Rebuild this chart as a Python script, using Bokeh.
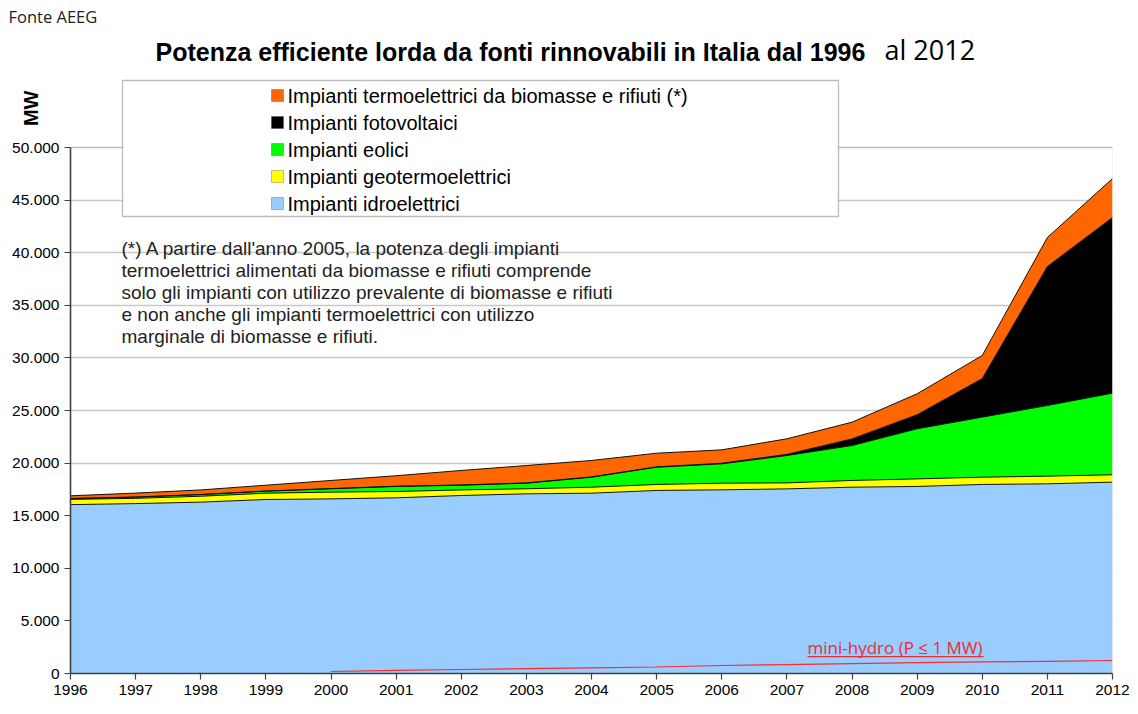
from bokeh.plotting import figure
from bokeh.models import (ColumnDataSource, Range1d, FixedTicker, Label,
                          BoxAnnotation, Title)
from bokeh.embed import file_html
from bokeh.resources import INLINE

# ---------------- data (MW) ----------------
years = [1996, 1997, 1998, 1999, 2000, 2001, 2002, 2003, 2004, 2005, 2006,
         2007, 2008, 2009, 2010, 2011, 2012]
hydro = [16050, 16150, 16290, 16540, 16600, 16700, 16920, 17080, 17140, 17400,
         17460, 17550, 17710, 17780, 17970, 18030, 18190]
geo = [500, 500, 560, 600, 640, 600, 530, 480, 570, 570, 630, 570, 640, 720,
       690, 730, 700]
wind = [70, 110, 150, 190, 320, 480, 450, 530, 950, 1640, 1840, 2600, 3320,
        4760, 5710, 6715, 7760]
pv = [20, 20, 20, 20, 20, 20, 20, 30, 30, 30, 60, 110, 630, 1340, 3670,
      13215, 16696]
bio = [250, 370, 430, 550, 770, 1000, 1380, 1650, 1560, 1300, 1270, 1480,
       1590, 1990, 2190, 2755, 3704]

mini_years = [2000, 2001, 2002, 2003, 2004, 2005, 2006, 2007, 2008, 2009,
              2010, 2011, 2012]
mini_hydro = [190, 300, 380, 460, 540, 620, 760, 850, 940, 1040, 1110, 1160,
              1235]

series_keys = ["hydro", "geo", "wind", "pv", "bio"]
series_names = ["Impianti idroelettrici", "Impianti geotermoelettrici",
                "Impianti eolici", "Impianti fotovoltaici",
                "Impianti termoelettrici da biomasse e rifiuti (*)"]
series_colors = ["#99ccff", "#ffff00", "#00ff00", "#000000", "#ff6600"]

y_tick_values = [0, 5000, 10000, 15000, 20000, 25000, 30000, 35000, 40000,
                 45000, 50000]
y_tick_labels = ["0", "5.000", "10.000", "15.000", "20.000", "25.000",
                 "30.000", "35.000", "40.000", "45.000", "50.000"]

note_lines = [
    "(*) A partire dall'anno 2005, la potenza degli impianti",
    "termoelettrici alimentati da biomasse e rifiuti comprende",
    "solo gli impianti con utilizzo prevalente di biomasse e rifiuti",
    "e non anche gli impianti termoelettrici con utilizzo",
    "marginale di biomasse e rifiuti.",
]

# ---------------- layout helpers (pixel -> data) ----------------
W, H = 1138, 714
FL, FR, FB, FT = 70, 1112, 673, 27   # frame left / right / bottom / top (px)
PX50K = 147                          # pixel row of 50.000
YMAX = 50000 * (FB - FT) / (FB - PX50K)


def dx(px):
    return years[0] + (px - FL) * (years[-1] - years[0]) / (FR - FL)


def dy(py):
    return (FB - py) * 50000 / (FB - PX50K)


src = ColumnDataSource(dict(year=years, hydro=hydro, geo=geo, wind=wind,
                            pv=pv, bio=bio))

p = figure(width=W, height=H, output_backend="svg", toolbar_location=None,
           tools="", x_range=Range1d(years[0], years[-1]),
           y_range=Range1d(0, YMAX),
           min_border_left=FL, min_border_right=W - FR,
           min_border_top=FT, min_border_bottom=H - FB)
p.outline_line_color = None
p.background_fill_color = "white"
p.border_fill_color = "white"

# source note as the plot title (top-left, outside the frame)
p.title.text = "Fonte AEEG"
p.title.align = "left"
p.title.offset = 8 - FL
p.title.standoff = 0
p.title.vertical_align = "bottom"
p.title.text_font = "Open Sans"
p.title.text_font_size = "16.5px"
p.title.text_font_style = "normal"
p.title.text_color = "#222222"

# axes
yt = FixedTicker(ticks=y_tick_values)
p.yaxis.ticker = yt
p.ygrid.ticker = yt
p.yaxis.major_label_overrides = {v: l for v, l in zip(y_tick_values, y_tick_labels)}
p.xaxis.ticker = FixedTicker(ticks=years)
for ax in (p.xaxis[0], p.yaxis[0]):
    ax.axis_line_color = "#404040"
    ax.axis_line_width = 1.6
    ax.major_tick_line_color = "#404040"
    ax.major_tick_line_width = 1.2
    ax.major_tick_out = 6
    ax.major_tick_in = 0
    ax.minor_tick_out = 0
    ax.minor_tick_in = 0
    ax.major_label_text_font = "Liberation Sans"
    ax.major_label_text_font_size = "15.5px"
    ax.major_label_text_color = "black"
    ax.major_label_standoff = 5
    ax.level = "overlay"

ya = p.yaxis[0]
ya.bounds = (0, 50000)
# a blank, tiny axis label pulled inward keeps the axis panel narrow so the
# unit title below fits in the left margin without moving the frame
ya.axis_label = "\u00a0"
ya.axis_label_text_font_size = "1px"
ya.axis_label_standoff = -50

# unit label "MW", rotated, in the left margin above the value axis
p.add_layout(Title(text="MW", align="right", vertical_align="bottom",
                   offset=63, standoff=25, text_font="Liberation Sans",
                   text_font_size="20px", text_font_style="bold",
                   text_color="black"), "left")

p.xgrid.visible = False
p.ygrid.grid_line_color = "#c8c8c8"
p.ygrid.grid_line_width = 1.5

# stacked areas and their outlines
p.varea_stack(stackers=series_keys, x="year", color=series_colors, source=src)
p.vline_stack(stackers=series_keys, x="year", color="#111111", line_width=1,
              source=src)

# frame border
p.add_layout(BoxAnnotation(left=years[0], right=years[-1], bottom=0,
                           top=50000, fill_color=None, line_color="#a6a6a6",
                           line_width=1))

# mini-hydro line and label
p.line(mini_years, mini_hydro, color="#ff2a2a", line_width=1.2)
p.add_layout(Label(x=dx(807), y=dy(647), text="mini-hydro (P \u2264 1 MW)",
                   text_font="Open Sans", text_font_size="17px",
                   text_color="#ee2c2c", text_baseline="middle",
                   text_align="left"))
p.add_layout(BoxAnnotation(left=dx(807), right=dx(983), top=dy(655.5),
                           bottom=dy(656.7), fill_color="#ee2c2c",
                           fill_alpha=1, line_color=None))

# legend box
p.add_layout(BoxAnnotation(left=dx(122), right=dx(838), top=dy(80),
                           bottom=dy(216), fill_color="white", fill_alpha=1,
                           line_color="#222222", line_width=1.3))
rows = [95, 122, 149, 176, 203]
for i, row in enumerate(rows):
    k = len(series_keys) - 1 - i
    p.add_layout(BoxAnnotation(left=dx(271), right=dx(283), top=dy(row - 6),
                               bottom=dy(row + 6), fill_color=series_colors[k],
                               fill_alpha=1, line_color="#333333",
                               line_width=1))
    p.add_layout(Label(x=dx(287), y=dy(row), text=series_names[k],
                       text_font="Liberation Sans", text_font_size="20px",
                       text_color="black", text_baseline="middle",
                       text_align="left"))

# note
for i, line in enumerate(note_lines):
    p.add_layout(Label(x=dx(121), y=dy(248 + 22 * i), text=line,
                       text_font="Liberation Sans", text_font_size="19px",
                       text_color="#222222", text_baseline="middle",
                       text_align="left"))

# chart title
p.add_layout(Label(x=dx(155), y=dy(51),
                   text="Potenza efficiente lorda da fonti rinnovabili in Italia dal 1996",
                   text_font="Liberation Sans", text_font_size="25px",
                   text_font_style="bold", text_color="black",
                   text_baseline="middle", text_align="left"))
p.add_layout(Label(x=dx(884), y=dy(49), text="al 2012",
                   text_font="Open Sans", text_font_size="27px",
                   text_color="black", text_baseline="middle",
                   text_align="left"))

open("out.html", "w").write(file_html(p, INLINE))
